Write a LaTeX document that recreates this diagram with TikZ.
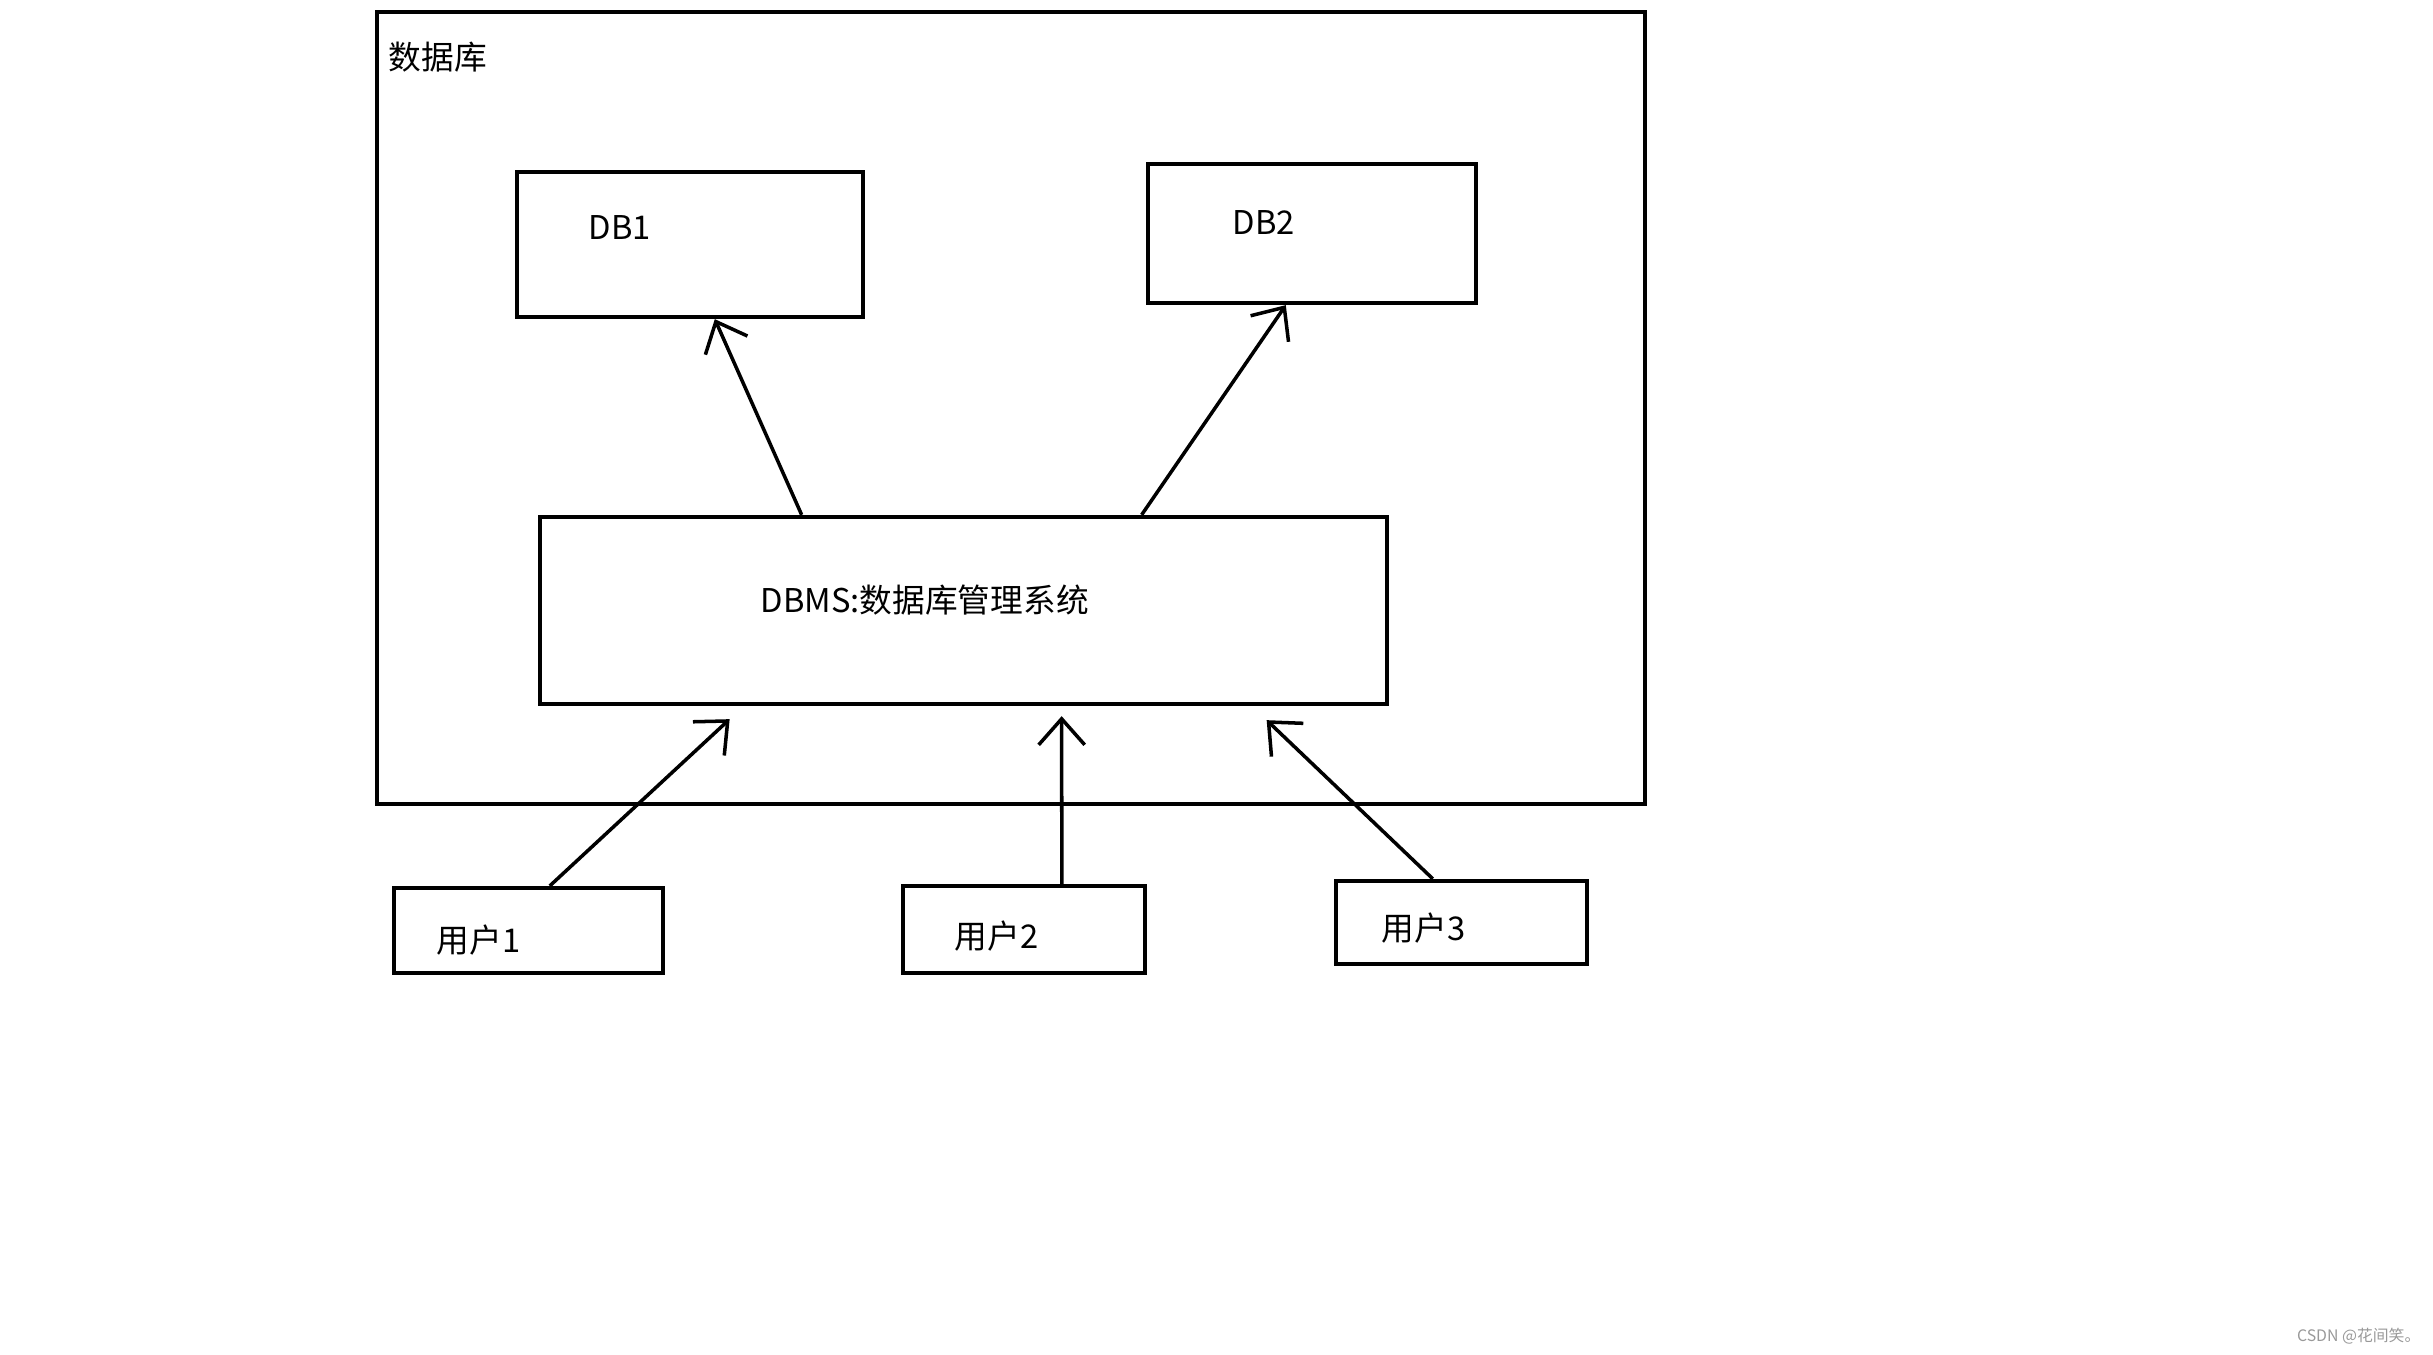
\documentclass[tikz,border=0pt]{standalone}
\usepackage{fontspec}
\setmainfont{Noto Sans CJK SC}
\usetikzlibrary{positioning, arrows.meta, calc}

\begin{document}
\begin{tikzpicture}[x=0.01cm, y=-0.01cm, >={Straight Barb[length=2.6mm, width=4.6mm]}]
    % Stili
    \tikzstyle{block} = [draw, rectangle, line width=1.2pt, inner sep=0pt]
    \tikzstyle{testo} = [anchor=west, inner sep=0pt, font=\fontsize{9.3pt}{11pt}\selectfont]
    \tikzstyle{freccia} = [->, line width=1pt]

    \useasboundingbox (0,0) rectangle (2433,1355);

    % Riquadro esterno
    \node [block, minimum width=12.68cm, minimum height=7.92cm] (db) at (1011,408) {};
    \node [testo] (dbtitle) at (388,57) {数据库};

    % Basi di dati
    \node [block, minimum width=3.46cm, minimum height=1.45cm] (db1) at (690,244.5) {};
    \node [testo] (db1label) at (588,228) {DB1};
    \node [block, minimum width=3.28cm, minimum height=1.39cm] (db2) at (1312,233.5) {};
    \node [testo] (db2label) at (1232,223) {DB2};

    % DBMS
    \node [block, minimum width=8.47cm, minimum height=1.87cm] (dbms) at (963.5,610.5) {};
    \node [testo] (dbmslabel) at (760,600) {DBMS:数据库管理系统};

    % Utenti
    \node [block, minimum width=2.69cm, minimum height=0.85cm] (user1) at (528.5,930.5) {};
    \node [testo] (user1label) at (436,940) {用户1};
    \node [block, minimum width=2.42cm, minimum height=0.87cm] (user2) at (1024,929.5) {};
    \node [testo] (user2label) at (954,936) {用户2};
    \node [block, minimum width=2.51cm, minimum height=0.83cm] (user3) at (1461.5,922.5) {};
    \node [testo] (user3label) at (1381,928) {用户3};

    % Collegamenti
    \draw [freccia] ($(dbms.north west)+(264,0)$) -- ($(db1.south west)+(200,0)$);
    \draw [freccia] ($(dbms.north west)+(604,0)$) -- ($(db2.south west)+(140,0)$);
    \draw [freccia] ($(user1.north west)+(158,0)$) -- ($(dbms.south west)+(192,13)$);
    \draw [freccia] ($(user2.north west)+(161,0)$) -- ($(dbms.south west)+(524,10)$);
    \draw [freccia] ($(user3.north west)+(99,0)$) -- ($(dbms.south west)+(729,14)$);

    % Filigrana
    \node [anchor=east, inner sep=0pt, text=gray!80, font=\fontsize{4.5pt}{5pt}\selectfont] (mark) at (2421,1336) {CSDN @花间笑。};
\end{tikzpicture}
\end{document}
